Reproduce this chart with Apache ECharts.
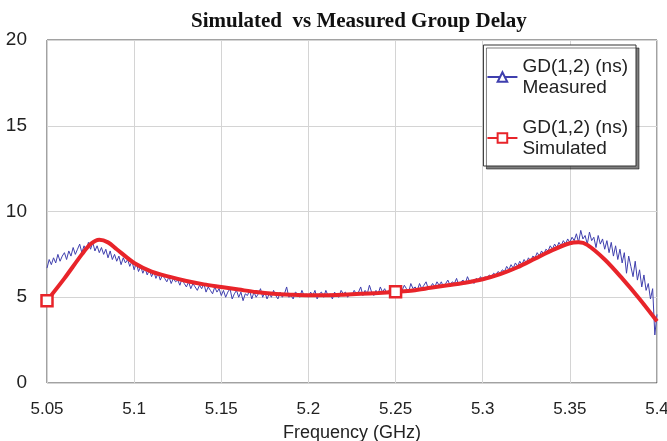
<!DOCTYPE html>
<html>
<head>
<meta charset="utf-8">
<script src="https://cdn.jsdelivr.net/npm/echarts@6/dist/echarts.min.js"></script>
<style>
  html, body { margin: 0; padding: 0; background: #fff; }
  #chart { width: 667px; height: 441px; }
</style>
</head>
<body>
<div id="chart"></div>
<script>
// measured sweep: 5.05 .. 5.4 GHz, 1.25 MHz step (one row = 25 MHz)
const measStart = 5.05;
const measStep = 0.00125;
const measured = [
  6.7, 7.2, 6.9, 7.3, 7.0, 7.5, 7.1, 7.4, 7.6, 7.2, 7.7, 7.4, 7.9, 7.5, 7.8, 8.1, 7.6, 8.0, 7.7, 8.2,
  7.8, 8.2, 7.7, 8.0, 7.6, 7.9, 7.5, 7.8, 7.3, 7.7, 7.2, 7.5, 7.1, 7.4, 6.9, 7.3, 7.0, 7.2, 6.8, 7.1,
  6.6, 7.0, 6.5, 6.8, 6.4, 6.7, 6.3, 6.6, 6.2, 6.5, 6.1, 6.4, 6.0, 6.3, 6.1, 5.9, 6.2, 5.8, 6.1, 5.9,
  6.0, 5.7, 6.1, 5.8, 5.6, 5.9, 5.5, 5.8, 5.6, 5.4, 5.7, 5.5, 5.8, 5.3, 5.6, 5.4, 5.2, 5.6, 5.3, 5.5,
  5.1, 5.4, 5.0, 5.3, 5.5, 4.9, 5.2, 5.4, 5.0, 5.3, 4.8, 5.2, 5.1, 5.4, 4.9, 5.3, 5.0, 5.2, 5.5, 5.0,
  5.3, 4.9, 5.2, 5.0, 5.4, 5.1, 4.9, 5.3, 5.0, 5.2, 5.6, 5.0, 5.1, 4.9, 5.3, 5.2, 5.0, 5.4, 5.1, 5.2,
  5.0, 5.3, 5.1, 5.4, 4.9, 5.2, 5.3, 5.0, 5.4, 5.1, 5.2, 4.9, 5.3, 5.1, 5.0, 5.4, 5.2, 5.3, 5.0, 5.2,
  5.1, 5.4, 5.2, 5.3, 5.6, 5.1, 5.4, 5.2, 5.7, 5.3, 5.1, 5.4, 5.2, 5.6, 5.3, 5.5, 5.2, 5.4, 5.7, 5.3,
  5.5, 5.3, 5.6, 5.4, 5.7, 5.5, 5.3, 5.8, 5.5, 5.6, 5.4, 5.8, 5.5, 5.7, 5.9, 5.5, 5.6, 5.8, 5.6, 5.9,
  5.7, 5.9, 5.6, 5.8, 6.0, 5.7, 5.9, 5.8, 6.1, 5.7, 5.9, 6.0, 5.8, 6.2, 5.9, 6.0, 5.8, 6.1, 6.0, 6.2,
  6.0, 6.2, 6.1, 6.3, 6.2, 6.4, 6.3, 6.5, 6.4, 6.6, 6.5, 6.8, 6.6, 6.9, 6.7, 7.0, 6.8, 7.1, 6.9, 7.2,
  7.0, 7.3, 7.1, 7.4, 7.3, 7.6, 7.4, 7.7, 7.5, 7.8, 7.7, 8.0, 7.8, 8.1, 7.9, 8.2, 8.0, 8.3, 8.1, 8.4,
  8.2, 8.5, 8.3, 8.7, 8.2, 8.9, 8.4, 8.6, 8.1, 8.8, 8.3, 8.5, 7.9, 8.6, 8.1, 8.4, 7.8, 8.3, 7.6, 8.2,
  7.4, 8.0, 7.2, 7.8, 7.0, 7.6, 6.4, 7.4, 6.8, 6.2, 7.1, 6.0, 6.6, 5.6, 6.3, 5.4, 5.8, 4.9, 5.5, 2.8,
  4.0
];

// simulated response
const simFreq = [5.05, 5.06, 5.07, 5.075, 5.08, 5.085, 5.09, 5.1, 5.11, 5.12, 5.13, 5.14, 5.15, 5.16, 5.17, 5.18, 5.19, 5.2,
  5.21, 5.22, 5.23, 5.24, 5.25, 5.26, 5.27, 5.28, 5.29, 5.3, 5.31, 5.32, 5.33, 5.34, 5.35, 5.355, 5.36, 5.37, 5.38, 5.39, 5.4];
const simGD = [4.8, 6.1, 7.5, 8.1, 8.35, 8.2, 7.8, 7.0, 6.5, 6.2, 5.95, 5.75, 5.6, 5.45, 5.3, 5.2, 5.15, 5.12,
  5.12, 5.15, 5.2, 5.25, 5.32, 5.4, 5.55, 5.7, 5.85, 6.05, 6.35, 6.75, 7.25, 7.75, 8.15, 8.2, 8.05, 7.2, 6.1, 4.9, 3.6];
const simMarkers = [5.05, 5.25];

const xTicks = [5.05, 5.1, 5.15, 5.2, 5.25, 5.3, 5.35, 5.4];

const BLUE = '#3f3fae';
const RED = '#e8242a';
const INK = '#222';
const FONT = 'Liberation Sans';

const chart = echarts.init(document.getElementById('chart'));

const measData = measured.map((v, i) => [+(measStart + i * measStep).toFixed(5), v]);
const simData = simFreq.map((f, i) => simMarkers.includes(f)
  ? { value: [f, simGD[i]] }
  : { value: [f, simGD[i]], symbol: 'none' });

chart.setOption({
  backgroundColor: '#fff',
  animation: false,
  title: {
    text: 'Simulated  vs Measured Group Delay',
    left: 186,
    top: 6,
    textStyle: { fontFamily: 'Liberation Serif', fontWeight: 'bold', fontSize: 21, color: '#111' },
  },
  grid: {
    left: 47, right: 10, top: 40, bottom: 58,
    outerBoundsMode: 'none',
    show: true, borderColor: '#444', borderWidth: 1,
  },
  legend: {
    orient: 'vertical',
    right: 31,
    top: 45,
    padding: [11, 8, 7, 3],
    itemGap: 19,
    itemWidth: 30,
    itemHeight: 12,
    backgroundColor: '#fff',
    borderColor: '#333',
    borderWidth: 1,
    shadowColor: 'rgba(0,0,0,0.5)',
    shadowOffsetX: 3,
    shadowOffsetY: 3,
    shadowBlur: 0,
    textStyle: { fontFamily: FONT, fontSize: 19, color: INK, lineHeight: 21 },
    data: ['GD(1,2) (ns)\nMeasured', 'GD(1,2) (ns)\nSimulated'],
  },
  xAxis: {
    type: 'value',
    min: 5.05,
    max: 5.4,
    interval: 0.05,
    name: 'Frequency (GHz)',
    nameLocation: 'middle',
    nameGap: 41,
    nameTextStyle: { fontFamily: FONT, fontSize: 18, color: INK },
    axisLine: { show: false },
    axisTick: { show: false },
    axisLabel: {
      fontFamily: FONT, fontSize: 17, color: INK, margin: 18,
      formatter: v => xTicks.find(t => Math.abs(t - v) < 1e-6)?.toString() ?? '',
    },
    splitLine: { lineStyle: { color: '#d4d4d4', width: 1 } },
  },
  yAxis: {
    type: 'value',
    min: 0,
    max: 20,
    interval: 5,
    axisLine: { show: false },
    axisTick: { show: false },
    axisLabel: { fontFamily: FONT, fontSize: 19, color: INK, margin: 20 },
    splitLine: { lineStyle: { color: '#d4d4d4', width: 1 } },
  },
  series: [
    {
      name: 'GD(1,2) (ns)\nMeasured',
      type: 'line',
      data: measData,
      showSymbol: false,
      symbol: 'emptyTriangle',
      symbolSize: 9,
      lineStyle: { color: BLUE, width: 1 },
      itemStyle: { color: BLUE },
      z: 2,
    },
    {
      name: 'GD(1,2) (ns)\nSimulated',
      type: 'line',
      data: simData,
      smooth: 0.3,
      symbol: 'rect',
      symbolSize: 11,
      lineStyle: { color: RED, width: 4 },
      itemStyle: { color: '#fff', borderColor: RED, borderWidth: 2.5 },
      z: 3,
    },
  ],
});
</script>
</body>
</html>
